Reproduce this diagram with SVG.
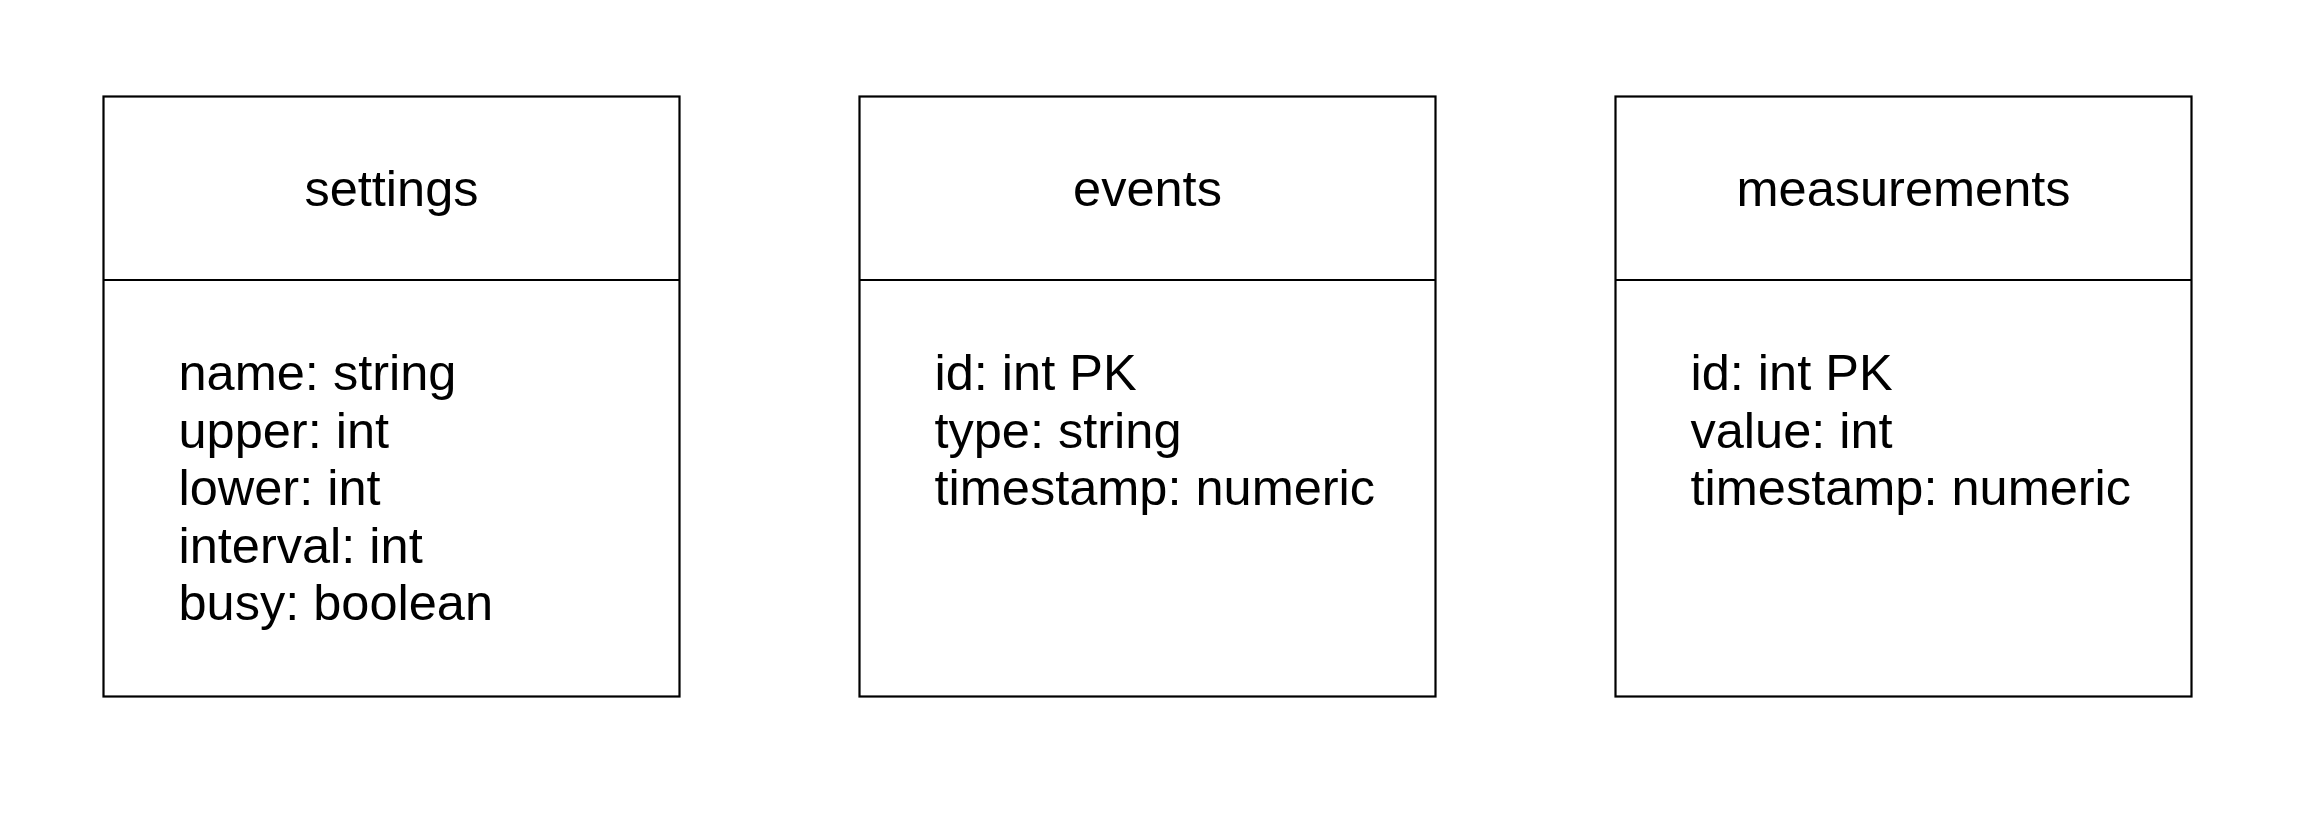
<svg xmlns="http://www.w3.org/2000/svg" width="2298" height="822" viewBox="0 0 2298 822">
<style>
.box{fill:#ffffff;stroke:#000000;stroke-width:2.2}
.div{stroke:#000000;stroke-width:2.2}
.t{font-family:"Liberation Sans",Arial,sans-serif;font-size:50.5px;fill:#000000}
.h{text-anchor:middle}
</style>
<rect width="2298" height="822" fill="#ffffff"/>
<g id="settings">
<rect class="box" x="103.5" y="96.5" width="576" height="600"/>
<line class="div" x1="103.5" y1="280" x2="679.5" y2="280"/>
<text class="t h" x="391.5" y="205.5">settings</text>
<text class="t" x="178.5" y="390">name: string</text>
<text class="t" x="178.5" y="447.5">upper: int</text>
<text class="t" x="178.5" y="505">lower: int</text>
<text class="t" x="178.5" y="562.5">interval: int</text>
<text class="t" x="178.5" y="620">busy: boolean</text>
</g>
<g id="events">
<rect class="box" x="859.5" y="96.5" width="576" height="600"/>
<line class="div" x1="859.5" y1="280" x2="1435.5" y2="280"/>
<text class="t h" x="1147.5" y="205.5">events</text>
<text class="t" x="934.5" y="390">id: int PK</text>
<text class="t" x="934.5" y="447.5">type: string</text>
<text class="t" x="934.5" y="505">timestamp: numeric</text>
</g>
<g id="measurements">
<rect class="box" x="1615.5" y="96.5" width="576" height="600"/>
<line class="div" x1="1615.5" y1="280" x2="2191.5" y2="280"/>
<text class="t h" x="1903.5" y="205.5">measurements</text>
<text class="t" x="1690.5" y="390">id: int PK</text>
<text class="t" x="1690.5" y="447.5">value: int</text>
<text class="t" x="1690.5" y="505">timestamp: numeric</text>
</g>
<g id="connectors"></g>
</svg>
